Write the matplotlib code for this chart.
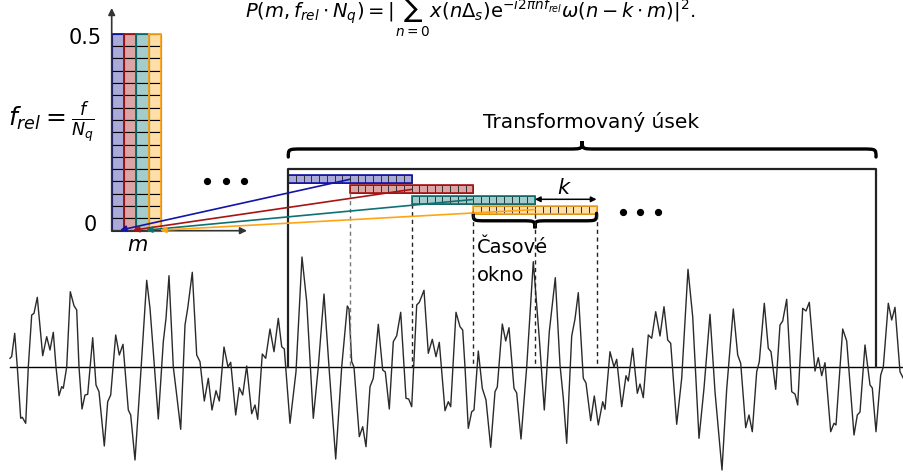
import matplotlib.pyplot as plt
from matplotlib.patches import Rectangle, PathPatch
from matplotlib.path import Path

plt.rcParams['font.family'] = ['DejaVu Sans']
plt.rcParams['mathtext.fontset'] = 'dejavusans'

# signal: x position (px) and height above the baseline (px)
SIG_X = [10, 11.7, 14.7, 17.3, 20.7, 22.3, 25.7, 28.3, 31.7, 34, 37.3, 42.7, 46.7, 50, 53.3, 56, 59, 61.7, 63.3,
         66.7, 70.3, 74, 76.7, 79, 82, 85, 87.7, 92.7, 96, 99, 104.3, 107.7, 110.7, 115.7, 119.3, 123, 128.3,
         130.7, 135, 140, 146.7, 150, 153.3, 158.3, 163.3, 166, 169, 173.3, 176.7, 180.7, 185, 187.7, 192.3,
         196.7, 200, 204.3, 208.3, 212, 216, 219.3, 224, 228, 230.7, 235.7, 239.3, 242.7, 246.7, 251.7, 255,
         257.7, 262.3, 265.7, 270, 274, 278.3, 281.7, 284.3, 290, 296, 302, 306.7, 313.3, 318.3, 324, 329,
         335.7, 341.7, 347.3, 349, 351.7, 354, 359.3, 362.7, 366, 370, 373.3, 378.3, 382.7, 385.3, 389.3,
         393.3, 396.7, 400.7, 406, 408.7, 411.7, 416.7, 419.3, 424, 428.3, 432.3, 436, 439.3, 445, 448.3,
         450.7, 456, 460, 462.7, 465, 468.3, 471.7, 474, 478.3, 482.3, 486, 490.7, 495, 497.3, 502.3, 505.7,
         509, 514, 516.7, 521, 526.7, 533.3, 539.3, 544.3, 549.3, 555.3, 560, 563.3, 566.7, 571.7, 575,
         578.3, 583.3, 586, 590.7, 594.3, 598.3, 602.7, 605, 610, 614, 616.7, 621.7, 626, 628.3, 632.7,
         637.3, 640, 643.3, 648.3, 651.7, 655.7, 660, 664, 667.7, 670.7, 676.7, 681.7, 688, 692.7, 699, 704,
         710, 715, 722, 726.7, 733.3, 737.7, 740.7, 745.7, 749, 752.3, 756.7, 759.3, 764.3, 768.3, 771,
         775.7, 780, 782.7, 786.7, 791.7, 795, 797.7, 802.7, 806, 809.3, 815, 818.3, 821.7, 825, 830.7, 834,
         836, 842.7, 846.7, 854, 857.3, 860, 865, 870, 872.3, 876, 880.7, 883.3, 888.3, 891.7, 895, 900, 903.3]
SIG_AMP = [8.7, 10.5, 33.7, 0, -51.3, -50.3, -56.3, 0, 52, 53.7, 69.7, 11.3, 30.3, 17, 34.7, 0, -28.7, -19.7, -21.3,
           0, 75.3, 61.3, 57, 0, -42, -28, -27.3, 29.3, -18, -24.7, -79, -34.7, -28, 32, 12, 22.7, -43,
           -48, -93, -18, 86.7, 58.7, 15.3, -52, 25.3, 48.7, 91.3, 0, -28, -62.3, 42, 58.7, 94.7,
           12, 5.3, -34, -11.3, -43, -23.7, -34, 20, 0, 4.7, -48, -20.7, -28, 1, -46.7, -38,
           -52.3, 13, 8.7, 38, 15.3, 48.7, 20.3, 18, -56.3, -4.7, 110, 65.3, -51.3, 0, 73, 0,
           -92, 0, 61, 58, 5.3, 0, -69.7, -59.7, -79.7, -19.7, -11.3, 42.7, -3, -5, -42,
           25.3, 31.3, 54.7, -31.3, -32, -39.7, 62, 64.7, 76.7, 13.7, 27.7, 10.3, 24.7, -43.7, -34.7,
           -39.7, 54.7, 40.3, 37, 0, -61.3, -44.7, -43, 16, -21.3, -33, -80.3, -24.7, -20, 43, 26,
           39.3, -21.3, -26, -72, 0, 105.3, 28.7, -43, 35.3, 89.3, 2, -31, -76.3, 31, 48,
           74.3, -11.3, -16, -53.7, -29, -58, -34.7, -42.3, 15.3, 0, 7.7, -39.7, -8.7, -14, 18.7,
           -26.3, -17, -30.7, 32, 28.7, 55.3, 31, 60.3, 27, 23.7, -57.3, -11.3, 97.7, 50.3, -71.3, -21.3,
           52.7, -24.7, -103, -22, 58, 12, 3.7, -60.7, -48, -64.7, -4.7, 5.3, 63.7, 18.7, 15.3,
           -22.3, 42, 46, 67.7, -24.7, -27, -38, 58.7, 56, 64.7, -4, 9.3, -8.7, 4.3, -64.7, -56.3,
           -58, 38, 26, -68, -48, -45, 22, -18, -21, -64.7, -8, 0, 63.7, 47, 59.7, -4.7, -11.3]

N_COLS = 4
N_ROWS = 16
LINE_COLORS = ['#1414a8', '#a81414', '#0f7272', '#ffa514']
FILL_COLORS = ['#aaaad8', '#dba5a5', '#a5cccc', '#ffdea8']
ARROW_TIPS = [120, 133, 146, 160]

BASE = 367
AX_X, AX_Y = 111.7, 230.7
COL_W, COL_TOP = 12.33, 33.7
STRIP_X0, STRIP_Y0, STRIP_W, STRIP_H, STRIP_DY = 288.3, 175.3, 123.3, 8, 10.1
FRAME_L, FRAME_R, FRAME_T = 288.3, 876, 169.3


def brace(ax, x0, x1, y, h, lw=2.4):
    xm = (x0 + x1) / 2
    q = abs(h) * 0.9
    ym = y + h / 2
    verts = [(x0, y), (x0, ym), (x0, ym), (x0 + q, ym),
             (xm - q, ym),
             (xm, ym), (xm, ym), (xm, y + h),
             (xm, ym), (xm, ym), (xm + q, ym),
             (x1 - q, ym),
             (x1, ym), (x1, ym), (x1, y)]
    codes = [Path.MOVETO, Path.CURVE4, Path.CURVE4, Path.CURVE4,
             Path.LINETO,
             Path.CURVE4, Path.CURVE4, Path.CURVE4,
             Path.CURVE4, Path.CURVE4, Path.CURVE4,
             Path.LINETO,
             Path.CURVE4, Path.CURVE4, Path.CURVE4]
    ax.add_patch(PathPatch(Path(verts, codes), fill=False, lw=lw, ec='black', capstyle='round'))


fig = plt.figure(figsize=(9.04, 4.73), dpi=100)
ax = fig.add_axes([0, 0, 1, 1])
ax.set_xlim(0, 904)
ax.set_ylim(473, 0)
ax.axis('off')

# signal and its baseline
ax.plot([10, 904], [BASE, BASE], color='black', lw=1)
ax.plot(SIG_X, [BASE - a for a in SIG_AMP], color='#2a2a2a', lw=1.0, solid_joinstyle='round')

# frame of the transformed part
ax.plot([FRAME_L, FRAME_L, FRAME_R, FRAME_R], [BASE, FRAME_T, FRAME_T, BASE], color='#222222', lw=1.6)

# spectrum columns
row_h = (AX_Y - COL_TOP) / N_ROWS
for c in range(N_COLS):
    x0 = AX_X + c * COL_W
    for r in range(N_ROWS):
        ax.add_patch(Rectangle((x0, COL_TOP + r * row_h), COL_W, row_h, fc=FILL_COLORS[c], ec='black', lw=0.8))
    ax.add_patch(Rectangle((x0, COL_TOP), COL_W, AX_Y - COL_TOP, fill=False, ec=LINE_COLORS[c], lw=1.3))

# time windows
cell_w = STRIP_W / N_ROWS
centers = []
for i in range(N_COLS):
    x0 = STRIP_X0 + i * STRIP_W / 2
    y0 = STRIP_Y0 + i * STRIP_DY
    for r in range(N_ROWS):
        ax.add_patch(Rectangle((x0 + r * cell_w, y0), cell_w, STRIP_H, fc=FILL_COLORS[i], ec='#333333', lw=0.7))
    ax.add_patch(Rectangle((x0, y0), STRIP_W, STRIP_H, fill=False, ec=LINE_COLORS[i], lw=1.2))
    centers.append((x0 + STRIP_W / 2, y0 + STRIP_H / 2))

# dashed window borders
dash_top = [STRIP_Y0 + STRIP_DY + STRIP_H, STRIP_Y0 + 2 * STRIP_DY + STRIP_H] + [STRIP_Y0 + 3 * STRIP_DY + STRIP_H] * 3
for j in range(5):
    xd = STRIP_X0 + (j + 1) * STRIP_W / 2
    ax.plot([xd, xd], [dash_top[j], BASE], color='#777777' if j == 0 else '#222222', lw=1, ls=(0, (3, 2.5)))

# axes of the spectrum
ax.annotate('', xy=(AX_X, 8), xytext=(AX_X, AX_Y),
            arrowprops=dict(arrowstyle='-|>', color='#333333', lw=1.2, mutation_scale=10, shrinkA=0, shrinkB=0))
ax.annotate('', xy=(247, AX_Y), xytext=(AX_X, AX_Y),
            arrowprops=dict(arrowstyle='-|>', color='#333333', lw=1.2, mutation_scale=10, shrinkA=0, shrinkB=0))

# arrows from windows to spectrum
for i in range(N_COLS):
    ax.annotate('', xy=(ARROW_TIPS[i], AX_Y - 0.5), xytext=centers[i],
                arrowprops=dict(arrowstyle='-|>', color=LINE_COLORS[i], lw=1.2, mutation_scale=9,
                                shrinkA=0, shrinkB=0))

# k shift arrow
kx0 = STRIP_X0 + 2 * STRIP_W / 2 + STRIP_W
ax.annotate('', xy=(kx0 + STRIP_W / 2, 199.3), xytext=(kx0, 199.3),
            arrowprops=dict(arrowstyle='<|-|>', color='black', lw=1.1, mutation_scale=8, shrinkA=0, shrinkB=0))
ax.text(564, 194, '$k$', fontsize=15, ha='center', va='baseline')

# braces
brace(ax, FRAME_L, FRAME_R, 157, -16)
brace(ax, STRIP_X0 + 1.5 * STRIP_W, STRIP_X0 + 2.5 * STRIP_W, 213.3, 15)

# dots
ax.plot([207, 226, 244], [181, 181, 181], 'o', color='black', ms=4.2)
ax.plot([623, 640, 658], [212, 212, 212], 'o', color='black', ms=4.2)

# texts
ax.text(591, 128, 'Transformovaný úsek', fontsize=14.5, ha='center', va='baseline')
ax.text(477, 253, 'Časové', fontsize=14, ha='left', va='baseline')
ax.text(477, 281, 'okno', fontsize=14, ha='left', va='baseline')
ax.text(102, 38, '0.5', fontsize=15, ha='right', va='center')
ax.text(97, 225, '0', fontsize=15, ha='right', va='center')
ax.text(137, 245, '$m$', fontsize=15, ha='center', va='center')
ax.text(8, 122, r'$f_{rel} = \frac{f}{N_q}$', fontsize=18, ha='left', va='center')
ax.text(245, 18, r'$P(m, f_{rel}\cdot N_q) = |\sum_{n=0}^{N-1} x(n\Delta_s)\mathrm{e}^{-i2\pi n f_{rel}}'
        r'\omega(n-k\cdot m)|^2.$', fontsize=14, ha='left', va='baseline')

fig.savefig('out.png', dpi=100)
